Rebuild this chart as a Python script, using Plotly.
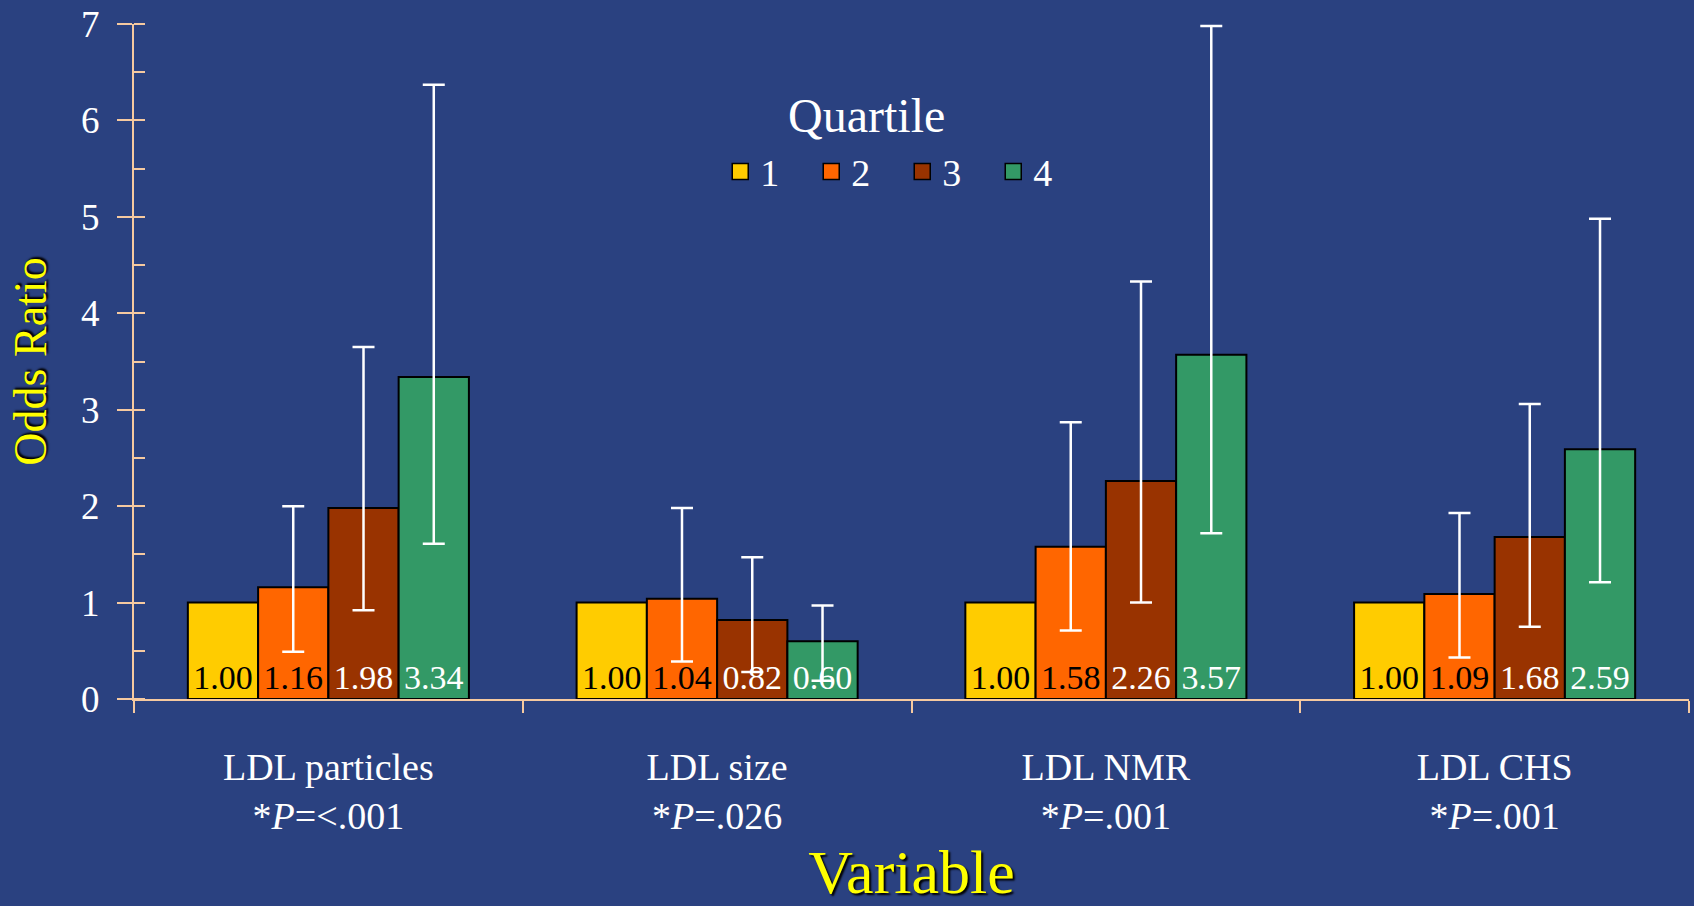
import plotly.graph_objects as go

# Data
variables = ["LDL particles<br>*<i>P</i>=<.001", "LDL size<br>*<i>P</i>=.026",
             "LDL NMR<br>*<i>P</i>=.001", "LDL CHS<br>*<i>P</i>=.001"]
quartiles = ["1", "2", "3", "4"]
q1 = [1.00, 1.00, 1.00, 1.00]
q2 = [1.16, 1.04, 1.58, 1.09]
q3 = [1.98, 0.82, 2.26, 1.68]
q4 = [3.34, 0.60, 3.57, 2.59]
q2_upper = [2.00, 1.98, 2.87, 1.93]
q2_lower = [0.49, 0.39, 0.71, 0.43]
q3_upper = [3.65, 1.47, 4.33, 3.06]
q3_lower = [0.92, 0.28, 1.00, 0.75]
q4_upper = [6.37, 0.97, 6.98, 4.98]
q4_lower = [1.61, 0.19, 1.72, 1.21]

series = [
    (q1, None, None, "#FFCC00", "black"),
    (q2, q2_upper, q2_lower, "#FF6600", "black"),
    (q3, q3_upper, q3_lower, "#993300", "white"),
    (q4, q4_upper, q4_lower, "#339966", "white"),
]

FONT = "Liberation Serif, Times New Roman, serif"
AXIS_COL = "#F5C9A0"

fig = go.Figure()
for name, (vals, up, lo, color, txtcol) in zip(quartiles, series):
    if up is not None:
        err = dict(type="data", symmetric=False,
                   array=[u - v for u, v in zip(up, vals)],
                   arrayminus=[v - l for v, l in zip(vals, lo)],
                   color="white", thickness=2.5, width=11)
    else:
        err = dict(visible=False)
    fig.add_trace(go.Bar(
        x=variables, y=vals, name=name, showlegend=False,
        marker=dict(color=color, line=dict(color="black", width=2)),
        text=[f"{v:.2f}" for v in vals],
        textposition="inside", insidetextanchor="start", textangle=0,
        constraintext="none",
        textfont=dict(family=FONT, size=34, color=txtcol),
        error_y=err,
    ))

# legend entries with larger square swatches
for name, (_, _, _, color, _) in zip(quartiles, series):
    fig.add_trace(go.Scatter(
        x=[None], y=[None], mode="markers", name=name,
        marker=dict(symbol="square", size=16, color=color,
                    line=dict(color="black", width=1.5)),
    ))

fig.update_layout(
    width=1694, height=906,
    margin=dict(l=134, r=5, t=24, b=207, autoexpand=False),
    paper_bgcolor="#2a4180", plot_bgcolor="rgba(0,0,0,0)",
    barmode="group", bargap=0.277, bargroupgap=0,
    font=dict(family=FONT, color="white"),
    legend=dict(
        orientation="h", x=0.377, xanchor="left", y=0.781, yanchor="middle",
        bgcolor="rgba(0,0,0,0)", itemsizing="trace",
        entrywidth=46,
        font=dict(family=FONT, size=38, color="white"),
    ),
    annotations=[dict(
        text="Quartile", xref="paper", yref="paper", x=0.471, y=0.865,
        xanchor="center", yanchor="middle", showarrow=False,
        font=dict(family=FONT, size=48, color="white"),
    )],
)

fig.update_yaxes(
    range=[0, 7], dtick=1, showgrid=False, zeroline=False, automargin=False,
    showline=True, linecolor=AXIS_COL, linewidth=2,
    ticks="outside", ticklen=15, tickwidth=2, tickcolor=AXIS_COL,
    minor=dict(dtick=0.5, ticks="inside", ticklen=11, tickwidth=2,
               tickcolor=AXIS_COL, showgrid=False),
    tickfont=dict(family=FONT, size=37, color="white"),
    ticklabelstandoff=10,
    title=dict(text="Odds Ratio", standoff=20,
               font=dict(family=FONT, size=46, color="#FFFF00", shadow="2px 2px 2px black")),
)

fig.update_xaxes(
    showgrid=False, showline=True, linecolor=AXIS_COL, linewidth=2, automargin=False,
    ticks="outside", tickson="boundaries", ticklen=12, tickwidth=2, tickcolor=AXIS_COL,
    tickfont=dict(family=FONT, size=38, color="white"),
    ticklabelstandoff=33,
    title=dict(text="Variable", standoff=52,
               font=dict(family=FONT, size=62, color="#FFFF00", shadow="2px 2px 2px black")),
)

fig.write_html("out.html", config={"displayModeBar": False},
               post_script="document.body.style.margin='0';")
